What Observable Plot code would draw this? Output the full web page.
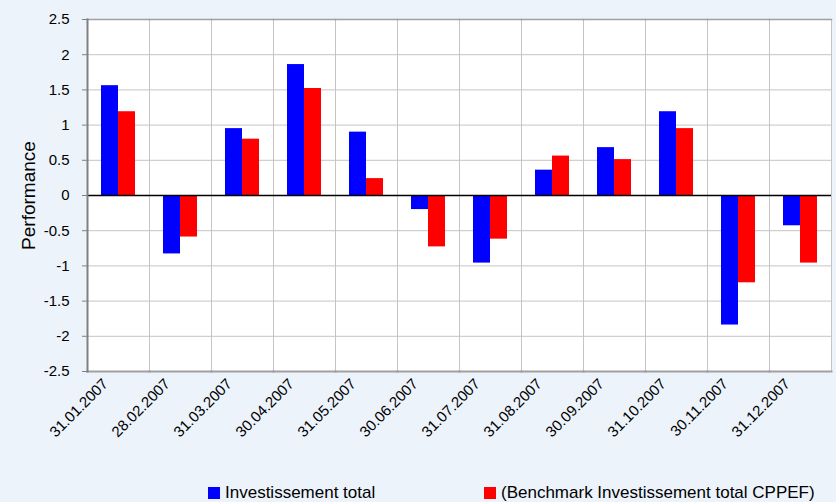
<!DOCTYPE html>
<html>
<head>
<meta charset="utf-8">
<script src="https://cdn.jsdelivr.net/npm/d3@7"></script>
<script src="https://cdn.jsdelivr.net/npm/@observablehq/plot@0.6"></script>
<style>
  html, body { margin: 0; padding: 0; background: #edf3fb; overflow: hidden; }
  body { width: 836px; height: 502px; position: relative; font-family: "Liberation Sans", Arial, sans-serif; }
  #legend { position: absolute; top: 483px; left: 0; width: 836px; height: 20px; font-size: 17px; color: #000; }
  .item { position: absolute; top: 0; display: flex; align-items: center; height: 20px; }
  .sw { width: 12px; height: 12px; margin-right: 5px; }
</style>
</head>
<body>
<div id="chart"></div>
<div id="legend"></div>
<script>
const dates = ["31.01.2007","28.02.2007","31.03.2007","30.04.2007","31.05.2007","30.06.2007",
               "31.07.2007","31.08.2007","30.09.2007","31.10.2007","30.11.2007","31.12.2007"];
const seriesNames = ["Investissement total", "(Benchmark Investissement total CPPEF)"];
const investissement = [1.56, -0.83, 0.95, 1.86, 0.90, -0.20, -0.96, 0.36, 0.68, 1.19, -1.84, -0.43];
const benchmark      = [1.19, -0.59, 0.80, 1.52, 0.24, -0.73, -0.62, 0.56, 0.51, 0.95, -1.24, -0.96];
const yTicks = [-2.5, -2, -1.5, -1, -0.5, 0, 0.5, 1, 1.5, 2, 2.5];
const colors = ["#0000ff", "#ff0000"];
const legendLeft = [208, 484];

const data = dates.flatMap((d, i) => [
  {date: d, series: seriesNames[0], value: investissement[i]},
  {date: d, series: seriesNames[1], value: benchmark[i]}
]);

const chart = Plot.plot({
  width: 836,
  height: 480,
  marginLeft: 82,
  marginRight: 0,
  marginTop: 19,
  marginBottom: 109,
  style: {background: "transparent", fontFamily: "'Liberation Sans', Arial, sans-serif", fontSize: "14px", color: "#000"},
  fx: {domain: dates, paddingInner: 0, paddingOuter: 0},
  x: {domain: seriesNames, paddingInner: 0, paddingOuter: 0.75, axis: null},
  y: {domain: [-2.5, 2.5], axis: null},
  color: {domain: seriesNames, range: colors},
  marks: [
    Plot.frame({fill: "white", stroke: "#c4c4c4"}),
    Plot.gridY(yTicks, {stroke: "#c4c4c4", strokeOpacity: 1}),
    Plot.barY(data, {fx: "date", x: "series", y: "value", fill: "series"}),
    Plot.ruleY([0], {stroke: "#000", strokeWidth: 1.5}),
    Plot.frame({anchor: "top", stroke: "#a0a0a0", strokeWidth: 1.5}),
    Plot.frame({anchor: "bottom", stroke: "#a0a0a0", strokeWidth: 2}),
    Plot.frame({anchor: "left", stroke: "#808080", strokeWidth: 2, facetAnchor: "left"}),
    Plot.axisY(yTicks, {tickSize: 5, tickPadding: 13, stroke: "#808080", fill: "#000", fontSize: 15,
                        tickFormat: d => String(d), label: null, facetAnchor: "left"}),
    Plot.axisFx({anchor: "bottom", tickRotate: -45, tickSize: 0, tickPadding: 9, dx: -13, dy: 1, fontSize: 15, label: null, fill: "#000"}),
    Plot.text(["Performance"], {frameAnchor: "left", rotate: -90, dx: -59, textAnchor: "middle",
                                fontSize: 19, fill: "#000", facetAnchor: "left"})
  ]
});
document.getElementById("chart").appendChild(chart);

const legend = document.getElementById("legend");
seriesNames.forEach((name, i) => {
  const item = document.createElement("div");
  item.className = "item";
  item.style.left = legendLeft[i] + "px";
  const sw = document.createElement("div");
  sw.className = "sw";
  sw.style.background = colors[i];
  const t = document.createElement("span");
  t.textContent = name;
  item.appendChild(sw);
  item.appendChild(t);
  legend.appendChild(item);
});
</script>
</body>
</html>
